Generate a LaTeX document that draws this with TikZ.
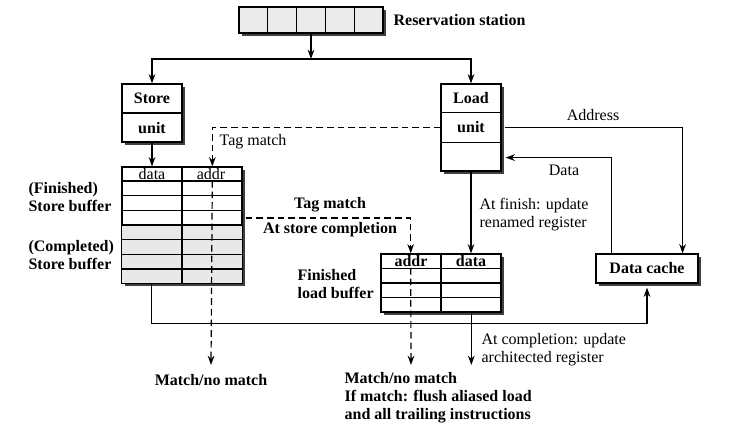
\documentclass[tikz,border=0pt]{standalone}
\usepackage{fontspec}
\setmainfont{Liberation Serif}
\usetikzlibrary{arrows.meta, calc, shadows, positioning}

\tikzset{
  box/.style={draw, fill=white, inner sep=0pt,
    general shadow={fill=black!75, shadow xshift=2.5pt, shadow yshift=-2.5pt}},
  lbl/.style={font=\fontsize{12}{13.5}\selectfont\bfseries, inner sep=0pt, align=left},
  txt/.style={font=\fontsize{12}{13.5}\selectfont, inner sep=0pt, align=left},
  tagline/.style={dash pattern=on 5pt off 3pt},
}

\begin{document}
\begin{tikzpicture}[x=0.75pt, y=-0.75pt, line width=0.9pt, >={Stealth[length=7pt, width=5pt]}]
\useasboundingbox (0,0) rectangle (730,440);

% boxes
\node[box, fill=black!8, minimum width=108pt, minimum height=19.5pt] (rs) at (311,20) {};
\foreach \k in {1,...,4}
  \draw ($(rs.north west)!\k/5!(rs.north east)$) -- ($(rs.south west)!\k/5!(rs.south east)$);
\node[lbl, anchor=west] (rslabel) at (393,20) {Reservation station};

\node[box, minimum width=45pt, minimum height=43.5pt] (su) at (152,113) {};
\draw (su.west) -- (su.east);
\node[lbl] (sutop) at ($(su.north)!0.5!(su.center)$) {Store};
\node[lbl] (subot) at ($(su.south)!0.5!(su.center)$) {unit};

\node[box, minimum width=45pt, minimum height=65.25pt] (lu) at (471,127.5) {};
\draw ($(lu.north west)!1/3!(lu.south west)$) -- ($(lu.north east)!1/3!(lu.south east)$);
\draw ($(lu.north west)!2/3!(lu.south west)$) -- ($(lu.north east)!2/3!(lu.south east)$);
\node[lbl] (lutop) at (471,98.5) {Load};
\node[lbl] (lumid) at (471,127.5) {unit};

\node[box, minimum width=90pt, minimum height=87pt] (sb) at (182,225) {};
\fill[black!9] (sb.west) rectangle (sb.south east);
\foreach \k in {1,...,7}
  \draw ($(sb.north west)!\k/8!(sb.south west)$) -- ($(sb.north east)!\k/8!(sb.south east)$);
\draw (sb.north) -- (sb.south);
\draw (sb.south west) rectangle (sb.north east);
\node[txt] (sbdata) at (152,174) {data};
\node[txt] (sbaddrt) at (211,174) {addr};
\node[lbl, anchor=west] (sbfin) at (28,197.5) {(Finished)\\Store buffer};
\node[lbl, anchor=west] (sbcom) at (28,255.5) {(Completed)\\Store buffer};

\node[box, minimum width=90pt, minimum height=43.5pt] (lb) at (441,283) {};
\foreach \k in {1,...,3}
  \draw ($(lb.north west)!\k/4!(lb.south west)$) -- ($(lb.north east)!\k/4!(lb.south east)$);
\draw (lb.north) -- (lb.south);
\node[lbl] (lbaddrt) at (411,261) {addr};
\node[lbl] (lbdata) at (471,261) {data};
\node[lbl, anchor=west] (lbfin) at (297,284) {Finished\\load buffer};

\node[box, lbl, minimum width=76.5pt, minimum height=21.75pt] (dc) at (647,268.5) {Data cache};

% connectors
\coordinate (split) at (311,59);
\draw[->] (rs.south) -- (split);
\draw[->] (split) -| (su.north);
\draw[->] (split) -| (lu.north);
\draw[->] (su.south) -- (su.south |- sb.north);

\coordinate (sbaddr) at ($(sb.north)!0.5!(sb.north east)$);
\coordinate (mm1) at (211,365);
\draw[tagline, ->] (lu.west) -| (sbaddr);
\draw[tagline, ->] ($(sbaddr)+(0,14.5)$) -- (mm1);

\coordinate (lbaddr) at ($(lb.north west)!0.5!(lb.north)$);
\coordinate (mm2) at (411,365);
\draw[tagline, ->] ($(sb.east)+(3,-7)$) -| (lbaddr);
\draw[tagline, ->] ($(lbaddr)+(0,14.5)$) -- (mm2);

\draw[->] (lu.south) -- (lu.south |- lb.north);

\coordinate (dcaddr) at ($(dc.north east)+(-16,0)$);
\coordinate (dcdata) at ($(dc.north west)+(16,0)$);
\draw[->] ($(lu.east)+(3,0)$) -| (dcaddr);
\draw[->] (dcdata) |- ($(lu.south east)+(4,-14)$);

\coordinate (sbout) at ($(sb.south west)!0.25!(sb.south east)$);
\draw[->] (sbout) |- ($(dc.south)+(0,40)$) -- ($(dc.south)+(0,4)$);
\coordinate (lbout) at ($(lb.south)!0.5!(lb.south east)$);
\draw[->] (lbout) -- (lbout |- mm2);

% labels
\node[txt, anchor=west] (tag1) at (219,142) {Tag match};
\node[lbl] (tag2) at (330,205) {Tag match};
\node[lbl] (stcomp) at (330,230) {At store completion};
\node[txt] (addr) at (593,115) {Address};
\node[txt] (data) at (564,170) {Data};
\node[txt, anchor=west] (finish) at (479,215) {At finish: update\\renamed register};
\node[txt, anchor=west] (compl) at (481,350) {At completion: update\\architected register};
\node[lbl] (match1) at (211,380) {Match/no match};
\node[lbl, anchor=west] (match2) at (344,398) {Match/no match\\If match: flush aliased load\\and all trailing instructions};
\end{tikzpicture}
\end{document}
